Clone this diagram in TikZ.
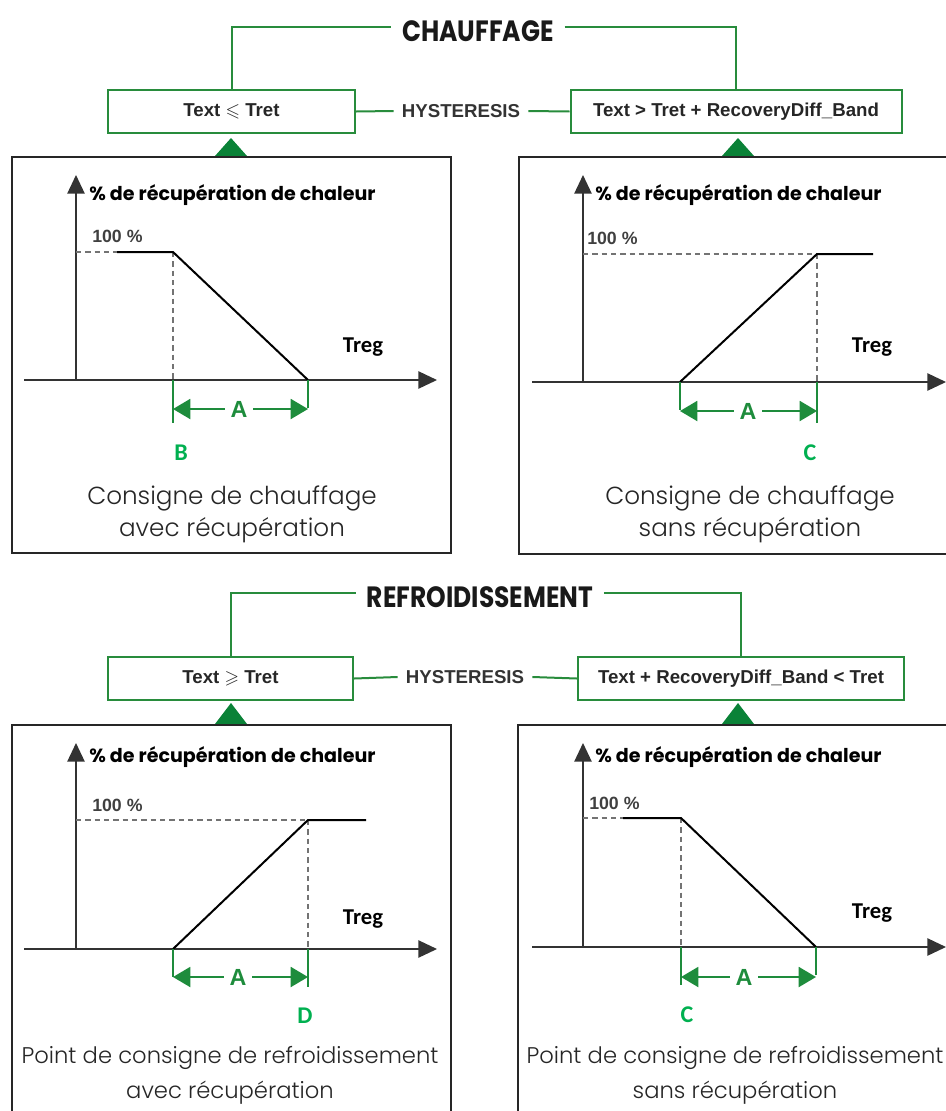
\documentclass[tikz,border=0pt]{standalone}
\usepackage{amssymb}
\usepackage{fontspec}
\setmainfont{Liberation Sans}
\newfontfamily\popfont{Poppins}
\newfontfamily\poptitle[FakeStretch=0.85]{Poppins}
\newfontfamily\poplight{Poppins Light}
\newfontfamily\carlfont{Carlito}
\usetikzlibrary{arrows.meta}
\definecolor{grn}{RGB}{40,140,60}
\definecolor{grnd}{RGB}{10,130,55}
\definecolor{grnm}{RGB}{30,140,60}
\definecolor{grnl}{RGB}{0,176,80}
\begin{document}
\begin{tikzpicture}[x=0.75pt,y=-0.75pt,
  gbox/.style={draw=grn, line width=1.5pt, inner sep=0pt, text=black!85, font=\bfseries\fontsize{14}{16}\selectfont},
  titl/.style={font=\poptitle\bfseries\fontsize{22}{24}\selectfont, text=black!90, inner sep=8pt},
  hyst/.style={font=\bfseries\fontsize{14}{16}\selectfont, text=black!80, inner sep=6pt},
  gline/.style={draw=grn, line width=1.5pt},
  panel/.style={draw=black!85, line width=1.5pt},
  axis/.style={draw=black!80, line width=1.1pt, -{Triangle[length=14pt,width=13pt]}},
  curve/.style={draw=black, line width=1.5pt, line join=round},
  guide/.style={draw=black!55, line width=0.8pt, dash pattern=on 4pt off 3pt},
  ylab/.style={font=\popfont\bfseries\fontsize{14.3}{16}\selectfont, anchor=west, inner sep=0pt},
  pct/.style={font=\bfseries\fontsize{13.3}{15}\selectfont, text=black!75, anchor=west, inner sep=0pt},
  treg/.style={font=\carlfont\bfseries\fontsize{17}{19}\selectfont, inner sep=0pt},
  dimv/.style={draw=grnm, line width=1.8pt},
  dima/.style={draw=grnm, line width=1.5pt, -{Triangle[length=13pt,width=15pt]}},
  alab/.style={font=\bfseries\fontsize{17.5}{19}\selectfont, text=grnm, inner sep=4pt},
  ptlab/.style={font=\carlfont\bfseries\fontsize{18}{20}\selectfont, text=grnl, inner sep=0pt},
  capt/.style={font=\poplight\fontsize{18.5}{24}\selectfont, align=center, text=black!85, inner sep=0pt},
  captb/.style={font=\poplight\fontsize{17}{26}\selectfont, align=center, text=black!85, inner sep=0pt},
]
\clip (0,0) rectangle (946,1111);
\fill[white] (0,0) rectangle (946,1111);

% ===== CHAUFFAGE header =====
\node[titl] (t1) at (478,31) {CHAUFFAGE};
\node[gbox, minimum width=247*0.75pt, minimum height=43*0.75pt] (b1) at (231.5,111.5) {Text $\leqslant$ Tret};
\node[gbox, minimum width=331*0.75pt, minimum height=43*0.75pt] (b2) at (736,111.5) {Text > Tret + RecoveryDiff\_Band};
\node[hyst] (h1) at (461,111) {HYSTERESIS};
\draw[gline] (b1.north) |- ([yshift=3pt]t1.west);
\draw[gline] ([yshift=3pt]t1.east) -| (b2.north);
\draw[gline] (b1.east) -- (h1.west);
\draw[gline] (h1.east) -- (b2.west);
\fill[grnd] (215,156) -- (231,138) -- (247,156) -- cycle;
\fill[grnd] (722,156) -- (738,138) -- (754,156) -- cycle;

% ===== Panel 1 =====
\draw[panel] (12,157) rectangle (451,553);
\coordinate (o1) at (76,380);
\coordinate (xs1) at (24,380); \coordinate (xe1) at (437,380);
\coordinate (ye1) at (76,175);
\draw[axis] (xs1) -- (xe1);
\draw[axis] (o1) -- (ye1);
\node[ylab] (yl1) at (89,195) {\% de récupération de chaleur};
\node[pct] (pc1) at (92,236) {100 \%};
\coordinate (ha1) at (76,252); \coordinate (hb1) at (117,252);
\coordinate (k1) at (173,252); \coordinate (z1) at (308,380); \coordinate (kb1) at (173,380);
\draw[guide] (ha1) -- (hb1);
\draw[guide] (k1) -- (kb1);
\draw[curve] (hb1) -- (k1) -- (z1);
\coordinate (dl1) at (173,423); \coordinate (dr1) at (308,408);
\draw[dimv] (kb1) -- (dl1);
\draw[dimv] (z1) -- (dr1);
\node[alab] (A1) at (239,409) {A};
\coordinate (al1) at (173,409); \coordinate (ar1) at (308,409);
\draw[dima] (A1.west) -- (al1);
\draw[dima] (A1.east) -- (ar1);
\node[treg] (tr1) at (363,347) {Treg};
\node[ptlab] (pB) at (181,453) {B};
\node[capt] (c1) at (232,514) {Consigne de chauffage\\avec récupération};

% ===== Panel 2 =====
\draw[panel] (519,157) rectangle (960,554);
\coordinate (o2) at (583,382);
\coordinate (xs2) at (532,382); \coordinate (xe2) at (946,382);
\coordinate (ye2) at (583,175);
\draw[axis] (xs2) -- (xe2);
\draw[axis] (o2) -- (ye2);
\node[ylab] (yl2) at (595,195) {\% de récupération de chaleur};
\node[pct] (pc2) at (587,238) {100 \%};
\coordinate (ha2) at (583,254); \coordinate (k2) at (817,254);
\coordinate (hb2) at (873,254); \coordinate (z2) at (680,382); \coordinate (kb2) at (817,382);
\draw[guide] (ha2) -- (k2);
\draw[guide] (k2) -- (kb2);
\draw[curve] (z2) -- (k2) -- (hb2);
\coordinate (dl2) at (680,410); \coordinate (dr2) at (817,423);
\draw[dimv] (z2) -- (dl2);
\draw[dimv] (kb2) -- (dr2);
\node[alab] (A2) at (748,411) {A};
\coordinate (al2) at (680,411); \coordinate (ar2) at (817,411);
\draw[dima] (A2.west) -- (al2);
\draw[dima] (A2.east) -- (ar2);
\node[treg] (tr2) at (872,347) {Treg};
\node[ptlab] (pC1) at (810,453) {C};
\node[capt] (c2) at (750,514) {Consigne de chauffage\\sans récupération};

% ===== REFROIDISSEMENT header =====
\node[titl] (t2) at (480,597) {REFROIDISSEMENT};
\node[gbox, minimum width=245*0.75pt, minimum height=43*0.75pt] (b3) at (230.5,678.5) {Text $\geqslant$ Tret};
\node[gbox, minimum width=326*0.75pt, minimum height=43*0.75pt] (b4) at (741,678.5) {Text + RecoveryDiff\_Band < Tret};
\node[hyst] (h2) at (465,677) {HYSTERESIS};
\draw[gline] (b3.north) |- ([yshift=3pt]t2.west);
\draw[gline] ([yshift=3pt]t2.east) -| (b4.north);
\draw[gline] (b3.east) -- (h2.west);
\draw[gline] (h2.east) -- (b4.west);
\fill[grnd] (215,724) -- (231,703) -- (247,724) -- cycle;
\fill[grnd] (722,724) -- (738,703) -- (754,724) -- cycle;

% ===== Panel 3 =====
\draw[panel] (12,725) rectangle (451,1130);
\coordinate (o3) at (76,949);
\coordinate (xs3) at (24,949); \coordinate (xe3) at (437,949);
\coordinate (ye3) at (76,743);
\draw[axis] (xs3) -- (xe3);
\draw[axis] (o3) -- (ye3);
\node[ylab] (yl3) at (89,757) {\% de récupération de chaleur};
\node[pct] (pc3) at (92,805) {100 \%};
\coordinate (ha3) at (76,820); \coordinate (k3) at (308,820);
\coordinate (hb3) at (366,820); \coordinate (z3) at (173,949); \coordinate (kb3) at (308,949);
\draw[guide] (ha3) -- (k3);
\draw[guide] (k3) -- (kb3);
\draw[curve] (z3) -- (k3) -- (hb3);
\coordinate (dl3) at (173,977); \coordinate (dr3) at (308,987);
\draw[dimv] (z3) -- (dl3);
\draw[dimv] (kb3) -- (dr3);
\node[alab] (A3) at (238,977) {A};
\coordinate (al3) at (173,977); \coordinate (ar3) at (308,977);
\draw[dima] (A3.west) -- (al3);
\draw[dima] (A3.east) -- (ar3);
\node[treg] (tr3) at (363,919) {Treg};
\node[ptlab] (pD) at (305,1016) {D};
\node[captb] (c3) at (230,1075) {Point de consigne de refroidissement\\avec récupération};

% ===== Panel 4 =====
\draw[panel] (518,725) rectangle (960,1130);
\coordinate (o4) at (583,947);
\coordinate (xs4) at (532,947); \coordinate (xe4) at (946,947);
\coordinate (ye4) at (583,743);
\draw[axis] (xs4) -- (xe4);
\draw[axis] (o4) -- (ye4);
\node[ylab] (yl4) at (595,757) {\% de récupération de chaleur};
\node[pct] (pc4) at (589,803) {100 \%};
\coordinate (ha4) at (583,818); \coordinate (hb4) at (623,818);
\coordinate (k4) at (681,818); \coordinate (z4) at (816,947); \coordinate (kb4) at (681,947);
\draw[guide] (ha4) -- (hb4);
\draw[guide] (k4) -- (kb4);
\draw[curve] (hb4) -- (k4) -- (z4);
\coordinate (dl4) at (681,985); \coordinate (dr4) at (816,975);
\draw[dimv] (kb4) -- (dl4);
\draw[dimv] (z4) -- (dr4);
\node[alab] (A4) at (744,977) {A};
\coordinate (al4) at (681,977); \coordinate (ar4) at (816,977);
\draw[dima] (A4.west) -- (al4);
\draw[dima] (A4.east) -- (ar4);
\node[treg] (tr4) at (872,913) {Treg};
\node[ptlab] (pC2) at (687,1015) {C};
\node[captb] (c4) at (735,1075) {Point de consigne de refroidissement\\sans récupération};
\end{tikzpicture}
\end{document}
